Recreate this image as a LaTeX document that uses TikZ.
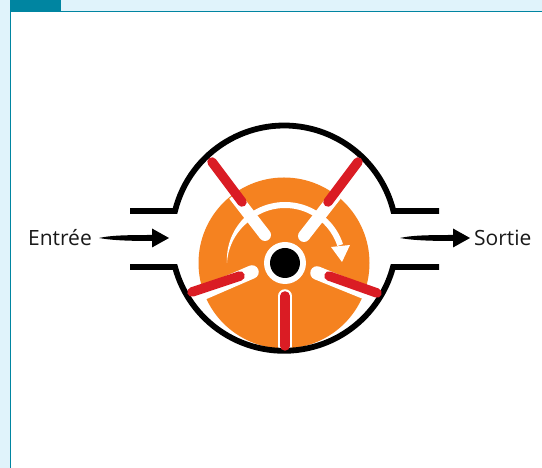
\documentclass[tikz,border=0pt]{standalone}
\usepackage{fontspec}
\setmainfont{Open Sans}
\definecolor{band}{HTML}{E0F3FB}
\definecolor{teal}{HTML}{0085A1}
\definecolor{rotor}{HTML}{F58220}
\definecolor{vane}{HTML}{DA1C24}
\tikzset{
  wall/.style={line width=5.8pt,black,line join=miter},
  slot/.style={line width=12pt,white},
  slotend/.style={white},
  rim/.style={line width=13.5pt,white,line cap=round},
  blade/.style={line width=9.5pt,vane,line cap=round},
  lbl/.style={font=\fontsize{21}{24}\selectfont,inner sep=0pt,text=black!90}
}
\begin{document}
\begin{tikzpicture}[x=1pt,y=1pt]
\useasboundingbox (0,0) rectangle (542,468);
% page frame
\fill[band] (0,0) rectangle (542,468);
\fill[white] (10.5,0) rectangle (542,456.5);
\fill[teal] (10,457) rectangle (61,468);
\draw[teal,line width=1pt] (10.5,0) -- (10.5,456.5) -- (542,456.5);
% rotor
\fill[rotor] (284,205) circle (85.5);
% slots
\draw[slot] (234,273) -- (265,233);
\fill[slotend] (265,233) circle (6);
\draw[slot] (336,273) -- (304,232);
\fill[slotend] (304,232) circle (6);
\draw[rim] (200,173.5) -- (252,196);
\draw[rim] (370,173.5) -- (317,195);
\draw[rim] (285,122) -- (285,172);
% rotation arrow
\fill[white] plot[domain=180:18,samples=60] ({285+(58+3*min(1,(180-\x)/50))*cos(\x)},{205+(58+3*min(1,(180-\x)/50))*sin(\x)})
  -- plot[domain=18:180,samples=60] ({285+(58-3*min(1,(180-\x)/50))*cos(\x)},{205+(58-3*min(1,(180-\x)/50))*sin(\x)}) -- cycle;
\fill[white] (331,221) -- (350,223) -- (342,206) -- cycle;
% hub
\fill[white] (285,205) circle (21);
\fill[black] (285,205) circle (15);
% casing
\draw[wall] (130,257) -- (175,257) arc[start angle=166.1,end angle=13.9,radius=112.5] -- (439,257);
\draw[wall] (130,201) -- (175,201) arc[start angle=194.9,end angle=345.1,radius=112.8] -- (439,201);
% blades
\draw[blade] (212,306) -- (242,266);
\draw[blade] (358,306) -- (328,266);
\draw[blade] (192,176) -- (240,192);
\draw[blade] (377,175) -- (329,192);
\draw[blade] (285,122) -- (285,172);
% labels
\node[lbl,anchor=east] (in) at (92,230) {Entrée};
\node[lbl,anchor=west] (out) at (474,230) {Sortie};
\coordinate (intail) at (99,230);
\coordinate (inhead) at (169,230);
\coordinate (outtail) at (400,230);
\coordinate (outhead) at (470,230);
% arrows
\fill[black] (intail) .. controls (110,232.5) and (125,233) .. (152,233) -- (152,239.5) -- (inhead) -- (152,220.5) -- (152,227) .. controls (125,227) and (110,228) .. (intail) -- cycle;
\fill[black] (outtail) .. controls (411,232.5) and (426,233) .. (453,233) -- (453,239.5) -- (outhead) -- (453,220.5) -- (453,227) .. controls (426,227) and (411,228) .. (outtail) -- cycle;
\end{tikzpicture}
\end{document}
